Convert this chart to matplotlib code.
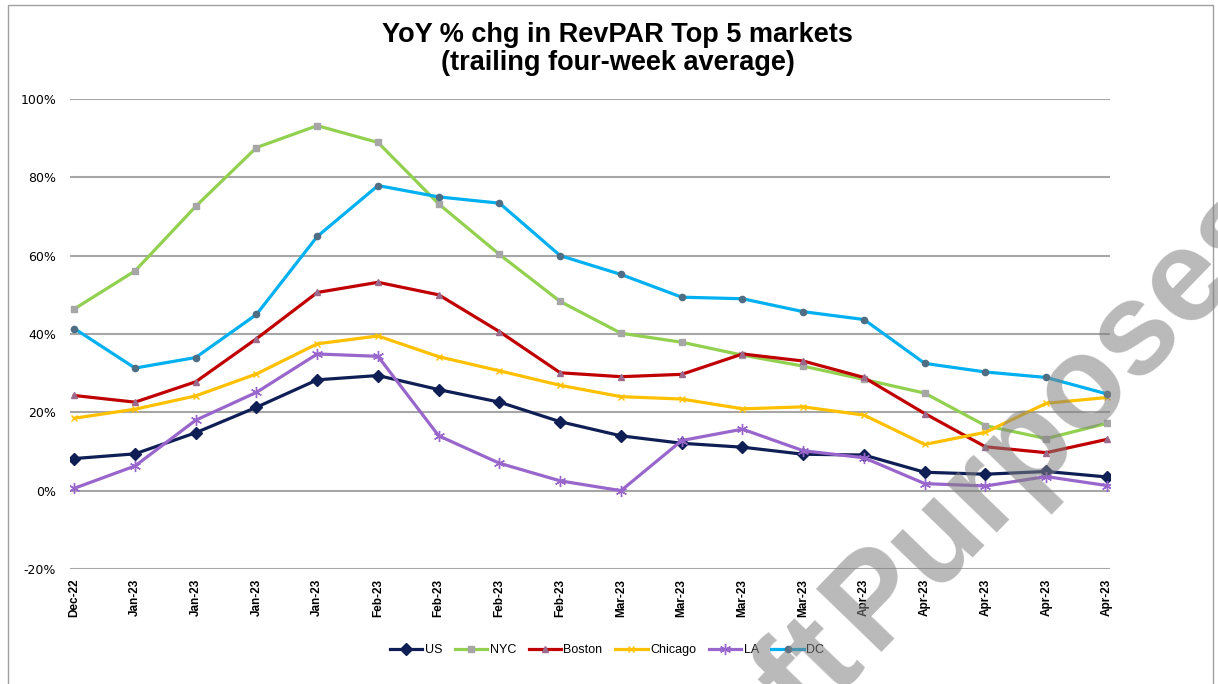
import math
import matplotlib
matplotlib.use("Agg")
import matplotlib.pyplot as plt
from matplotlib import font_manager
from matplotlib.patches import Rectangle
from matplotlib.ticker import FuncFormatter

# ─── DATA ──────────────────────────────────────────────────────────────────────

weeks = ["Dec-22", "Jan-23", "Jan-23", "Jan-23", "Jan-23", "Feb-23", "Feb-23",
         "Feb-23", "Feb-23", "Mar-23", "Mar-23", "Mar-23", "Mar-23", "Apr-23",
         "Apr-23", "Apr-23", "Apr-23", "Apr-23"]

us = [8.2, 9.4, 14.8, 21.3, 28.3, 29.4, 25.8, 22.6, 17.6, 14.0,
      12.1, 11.1, 9.3, 9.1, 4.7, 4.2, 4.9, 3.5]
nyc = [46.4, 56.1, 72.6, 87.6, 93.2, 88.9, 73.2, 60.3, 48.3, 40.2,
       37.9, 34.6, 31.8, 28.4, 24.9, 16.6, 13.3, 17.2]
boston = [24.3, 22.6, 27.8, 38.8, 50.6, 53.2, 50.0, 40.6, 30.1, 29.1,
          29.7, 34.9, 33.1, 28.9, 19.7, 11.2, 9.7, 13.1]
chicago = [18.5, 20.8, 24.2, 29.8, 37.5, 39.5, 34.2, 30.6, 26.9, 24.0,
           23.4, 20.9, 21.4, 19.3, 11.8, 14.9, 22.3, 23.8]
la = [0.6, 6.3, 18.0, 25.1, 34.9, 34.3, 14.0, 7.0, 2.5, 0.0,
      12.8, 15.7, 10.2, 8.4, 1.8, 1.2, 3.6, 1.3]
dc = [41.4, 31.3, 34.0, 45.0, 64.9, 77.9, 75.0, 73.4, 60.0, 55.2,
      49.4, 49.0, 45.7, 43.7, 32.5, 30.3, 28.9, 24.7]

series = [
    ("US", us, dict(color="#0F1F55", marker="D", ms=6, mfc="#0F1F55", mec="#0F1F55")),
    ("NYC", nyc, dict(color="#92D050", marker="s", ms=5, mfc="#A6A6A6", mec="#A6A6A6")),
    ("Boston", boston, dict(color="#C00000", marker="^", ms=5, mfc="#9C6A8C", mec="#9C6A8C")),
    ("Chicago", chicago, dict(color="#FFC000", marker="x", ms=5, mec="#FFC000", mew=1)),
    ("LA", la, dict(color="#9966CC", marker=(6, 2, 0), ms=8, mec="#9966CC", mew=1)),
    ("DC", dc, dict(color="#00B0F0", marker="o", ms=4.5, mfc="#4F6E84", mec="#4F6E84")),
]

# ─── PLOT ──────────────────────────────────────────────────────────────────────

W, H = 1218, 684
fig = plt.figure(figsize=(W / 100, H / 100), dpi=100)
ax = fig.add_axes([70 / W, 1 - 569 / H, (1110 - 70) / W, (569 - 99) / H])

x = list(range(len(weeks)))
handles = []
for name, vals, style in series:
    h, = ax.plot(x, vals, lw=2.3, label=name, zorder=3, **style)
    handles.append(h)

ax.set_xlim(-0.07, len(weeks) - 1 + 0.05)
ax.set_ylim(-20, 100)
ax.set_yticks(range(-20, 101, 20))
ax.yaxis.set_major_formatter(FuncFormatter(lambda v, p: f"{v:.0f}%"))
ax.grid(axis="y", color="#A6A6A6", lw=1.5, zorder=0)
ax.set_axisbelow(True)
for s in ax.spines.values():
    s.set_visible(False)

ax.set_xticks(x)
ax.set_xticklabels(weeks, rotation=90, fontsize=8.5, fontweight="bold",
                   family=["Liberation Sans", "DejaVu Sans"])
ax.tick_params(axis="x", length=0, pad=7)
ax.tick_params(axis="y", length=0, pad=10, labelsize=9)

fig.text(0.507, 1 - 49 / H, "YoY % chg in RevPAR Top 5 markets\n(trailing four-week average)",
         ha="center", va="center", fontsize=19.5, fontweight="bold",
         family=["Liberation Sans", "DejaVu Sans"], linespacing=1.15)

fig.legend(handles=handles, loc="center", bbox_to_anchor=(607 / W, 1 - 650 / H),
           ncol=6, frameon=False, handlelength=2.6, handletextpad=0.2,
           columnspacing=1.0, prop={"family": ["Liberation Sans"], "size": 9})

# chart border
fig.patches.append(Rectangle((8 / W, -0.01), (1213 - 8) / W, 1.01 - 5 / H,
                             transform=fig.transFigure, fill=False,
                             ec="#A0A0A0", lw=1))

# watermark
names = {f.name for f in font_manager.fontManager.ttflist}
if "Liberation Sans Narrow" in names:
    wm_font, wm_size = "Liberation Sans Narrow", 106
else:
    wm_font, wm_size = "Liberation Sans", 94
ang = 46
dx, dy = math.cos(math.radians(ang)), math.sin(math.radians(ang))
px, py = 873, 652          # baseline start of "Purposes", pixels from top-left
gap = 12
wm = dict(rotation=ang, rotation_mode="anchor", va="baseline", fontsize=wm_size,
          fontweight="bold", color="#808080", alpha=0.55, family=wm_font, zorder=10)
fig.text(px / W, 1 - py / H, "Purposes", ha="left", **wm)
fig.text((px - gap * dx) / W, 1 - (py + gap * dy) / H, "Draft", ha="right", **wm)

fig.savefig("out.png", dpi=100)
